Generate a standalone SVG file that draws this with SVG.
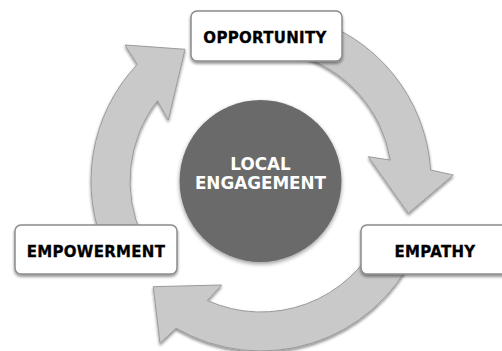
<svg xmlns="http://www.w3.org/2000/svg" width="502" height="351" viewBox="0 0 502 351">
  <defs>
    <filter id="sh" x="-20%" y="-20%" width="140%" height="150%">
      <feGaussianBlur in="SourceAlpha" stdDeviation="1.5"/>
      <feOffset dx="0" dy="2" result="b"/>
      <feComponentTransfer><feFuncA type="linear" slope="0.45"/></feComponentTransfer>
      <feMerge><feMergeNode/><feMergeNode in="SourceGraphic"/></feMerge>
    </filter>
    <filter id="csh" x="-20%" y="-20%" width="140%" height="140%">
      <feGaussianBlur in="SourceAlpha" stdDeviation="2"/>
      <feOffset dx="0" dy="2" result="b"/>
      <feComponentTransfer><feFuncA type="linear" slope="0.4"/></feComponentTransfer>
      <feMerge><feMergeNode/><feMergeNode in="SourceGraphic"/></feMerge>
    </filter>
  </defs>
  <style>
    .arrow { fill: #c9c9c9; stroke: #9b9b9b; stroke-width: 1; stroke-linejoin: miter; }
    .box { fill: #ffffff; stroke: #8c8c8c; stroke-width: 1.5; }
    .lbl { font-family: "DejaVu Sans", "Liberation Sans", sans-serif; font-weight: bold; font-size: 15px; fill: #000000; text-anchor: middle; letter-spacing: 0.3px; stroke: #000000; stroke-width: 0.3px; }
    .ctr { font-family: "DejaVu Sans", "Liberation Sans", sans-serif; font-weight: bold; font-size: 16.8px; fill: #ffffff; text-anchor: middle; }
  </style>
  <rect width="502" height="351" fill="#ffffff"/>
  <g id="connectors" filter="url(#sh)">
    <path class="arrow" d="M106.9,252.8 A170,170 0 0 1 137.3,64.4 L125,45 L185,49.3 L168.3,120 L157.5,100.7 A131,131 0 0 0 142.3,236.4 Z"/>
    <path class="arrow" d="M305,16.8 A170,170 0 0 1 430.6,170 L453.3,175 L408.3,213.3 L368.3,156.7 L390.3,160.1 A131,131 0 0 0 294.9,54.5 Z"/>
    <path class="arrow" d="M415.1,252.8 A170,170 0 0 1 176,328.2 L160,343.3 L153.3,286.7 L221.7,285 L207.3,300.5 A131,131 0 0 0 379.7,236.4 Z"/>
  </g>
  <g id="center">
    <circle cx="260.5" cy="181" r="81" fill="#6b6b6b" filter="url(#csh)"/>
    <text class="ctr" x="260.5" y="170">LOCAL</text>
    <text class="ctr" x="260.5" y="189">ENGAGEMENT</text>
  </g>
  <g id="opportunity">
    <rect class="box" x="191" y="11" width="151" height="50" rx="6" filter="url(#sh)"/>
    <text class="lbl" x="265" y="43">OPPORTUNITY</text>
  </g>
  <g id="empathy">
    <rect class="box" x="361" y="225" width="160" height="49" rx="6" filter="url(#sh)"/>
    <text class="lbl" x="435" y="257">EMPATHY</text>
  </g>
  <g id="empowerment">
    <rect class="box" x="15" y="225" width="162" height="49" rx="6" filter="url(#sh)"/>
    <text class="lbl" x="96" y="257">EMPOWERMENT</text>
  </g>
</svg>
